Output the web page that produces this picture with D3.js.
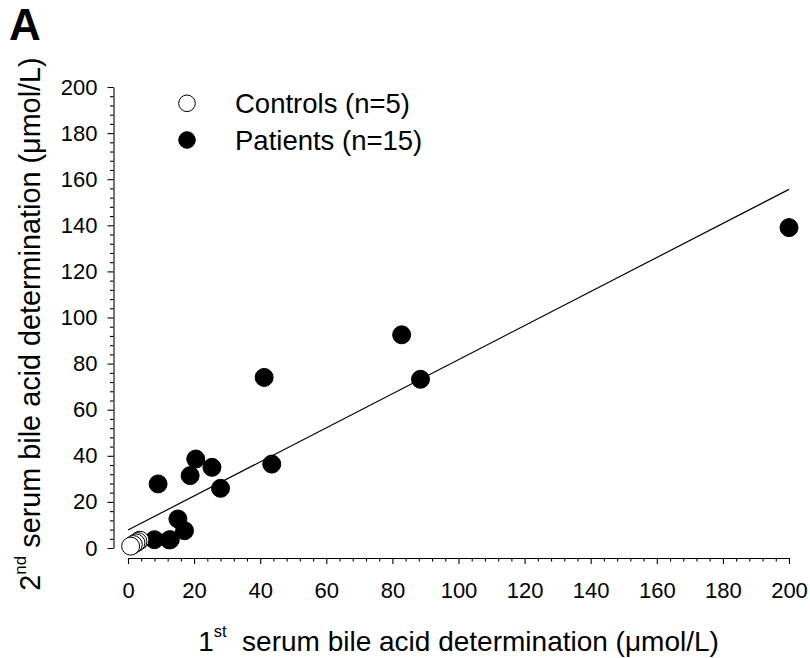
<!DOCTYPE html>
<html><head><meta charset="utf-8">
<script src="https://cdn.jsdelivr.net/npm/d3@7"></script>
<style>
body{margin:0;background:#fff}
svg{display:block}
text{font-family:"Liberation Sans",Arial,sans-serif;fill:#000}
</style>
</head><body>
<svg id="chart" width="810" height="658"></svg>
<script>
// ---- data ----
const patientsX = [8.0, 12.8, 12.5, 17.1, 15.1, 9.1, 18.8, 20.5, 25.4, 28.0, 41.2, 43.5, 82.8, 88.5, 200.0];
const patientsY = [3.6, 3.6, 3.5, 7.5, 12.6, 27.8, 31.4, 38.6, 35.0, 25.9, 74.0, 36.4, 92.5, 73.2, 139.0];
const controlsX = [3.6, 3.0, 2.4, 1.6, 0.8];
const controlsY = [3.4, 2.8, 2.2, 1.5, 0.8];
const xTickValues = [0, 20, 40, 60, 80, 100, 120, 140, 160, 180, 200];
const yTickValues = [0, 20, 40, 60, 80, 100, 120, 140, 160, 180, 200];
const fitIntercept = 7.8;
const fitSlope = 0.739;
const legendLabels = ["Controls (n=5)", "Patients (n=15)"];
const panelLabel = "A";

// ---- layout ----
const svg = d3.select("#chart");
const x = d3.scaleLinear().domain([0, 200]).range([128, 789]);
const y = d3.scaleLinear().domain([0, 200]).range([548, 87]);
const xAxisY = 558, yAxisX = 113.5;

const minorX = d3.range(0, 201, 4).filter(v => v % 20 !== 0);
const minorY = d3.range(0, 201, 4).filter(v => v % 20 !== 0);

// X axis
svg.append("g").attr("transform", `translate(0,${xAxisY})`)
  .call(d3.axisBottom(x).tickValues(xTickValues).tickSize(6).tickSizeOuter(0).tickPadding(18).tickFormat(d3.format("d")));
svg.append("g").attr("transform", `translate(0,${xAxisY})`)
  .call(d3.axisBottom(x).tickValues(minorX).tickSize(3.5).tickSizeOuter(0).tickFormat(""))
  .select(".domain").remove();

// Y axis
svg.append("g").attr("transform", `translate(${yAxisX},0)`)
  .call(d3.axisLeft(y).tickValues(yTickValues).tickSize(6).tickSizeOuter(0).tickPadding(10).tickFormat(d3.format("d")));
svg.append("g").attr("transform", `translate(${yAxisX},0)`)
  .call(d3.axisLeft(y).tickValues(minorY).tickSize(3.5).tickSizeOuter(0).tickFormat(""))
  .select(".domain").remove();

svg.selectAll(".tick text").attr("font-size", 22).style("font-family", '"Liberation Sans",Arial,sans-serif').attr("fill", "#000");
svg.selectAll(".domain, .tick line").attr("stroke", "#000").attr("stroke-width", 1.1);

// regression line
svg.append("line")
  .attr("x1", x(0)).attr("y1", y(fitIntercept))
  .attr("x2", x(200)).attr("y2", y(fitIntercept + fitSlope * 200))
  .attr("stroke", "#000").attr("stroke-width", 1.2);

// patients
svg.append("g").selectAll("circle").data(patientsX.map((v, i) => [v, patientsY[i]]))
  .join("circle").attr("cx", d => x(d[0])).attr("cy", d => y(d[1])).attr("r", 9)
  .attr("fill", "#000").attr("stroke", "#000");

// controls
svg.append("g").selectAll("circle").data(controlsX.map((v, i) => [v, controlsY[i]]))
  .join("circle").attr("cx", d => x(d[0])).attr("cy", d => y(d[1])).attr("r", 9)
  .attr("fill", "#fff").attr("stroke", "#000").attr("stroke-width", 1);

// legend
const legendY = [103.3, 140];
const lg = svg.append("g");
legendLabels.forEach((lab, i) => {
  lg.append("circle").attr("cx", 187).attr("cy", legendY[i]).attr("r", 8.3)
    .attr("fill", i === 0 ? "#fff" : "#000").attr("stroke", "#000").attr("stroke-width", 1);
  lg.append("text").attr("x", 235).attr("y", legendY[i] + 10).attr("font-size", 27.5).text(lab);
});

// axis titles
const xt = svg.append("text").attr("x", (x(0) + x(200)) / 2).attr("y", 651)
  .attr("text-anchor", "middle").attr("font-size", 28);
xt.append("tspan").text("1");
xt.append("tspan").attr("font-size", 16.5).attr("dy", -14).text("st");
xt.append("tspan").attr("dy", 14).text("\u00A0 serum bile acid determination (\u03BCmol/L)");

const yt = svg.append("text").attr("transform", "translate(40,324) rotate(-90)")
  .attr("text-anchor", "middle").attr("font-size", 28.8);
yt.append("tspan").text("2");
yt.append("tspan").attr("font-size", 17).attr("dy", -14).text("nd");
yt.append("tspan").attr("dy", 14).text(" serum bile acid determination (\u03BCmol/L)");

// panel label
svg.append("text").attr("x", 9).attr("y", 40).attr("font-size", 44).attr("font-weight", "bold").text(panelLabel);
</script>
</body></html>
